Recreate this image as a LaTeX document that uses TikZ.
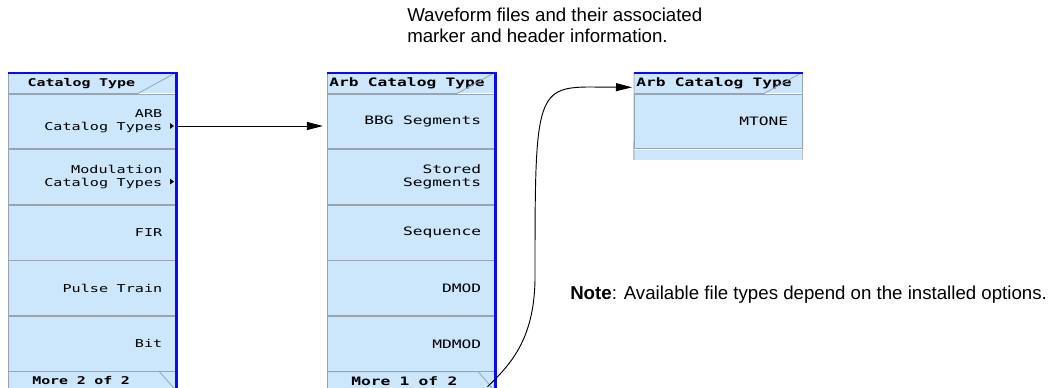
\documentclass[tikz,border=0pt]{standalone}
\usepackage{fontspec}
\setmainfont{Liberation Sans}
\newfontfamily\keyfamily[FakeStretch=1.4]{DejaVu Sans Mono}
\DeclareRobustCommand\keyface{\keyfamily\fontsize{8.7}{9.8}\selectfont}
\DeclareRobustCommand\smallkeyface{\keyfamily\fontsize{8.1}{9.6}\selectfont}
\DeclareRobustCommand\tabface{\keyfamily\bfseries\fontsize{8.7}{9}\selectfont}
\DeclareRobustCommand\smalltabface{\keyfamily\bfseries\fontsize{8}{9}\selectfont}
\newcommand\ks{\hspace{0.8em}}
\usetikzlibrary{arrows.meta, positioning}
\definecolor{keyblue}{HTML}{CCE6FC}
\definecolor{frameblue}{HTML}{0A0AF5}
\definecolor{keyline}{HTML}{98A4B2}
\tikzset{
  menutitle/.style={
    rectangle, fill=keyblue, minimum width=126pt, minimum height=15pt,
    inner xsep=0pt, text width=#1, align=left, font=\tabface
  },
  menutitle/.default=123pt,
  softkey/.style={
    rectangle, fill=keyblue, draw=keyline, line width=0.6pt,
    minimum width=126pt, minimum height=41.1pt,
    text width=105pt, inner xsep=10.5pt, align=right, font=\keyface
  },
  moretab/.style={
    rectangle, fill=keyblue, minimum width=126pt, minimum height=12.75pt,
    inner xsep=0pt, text width=90pt, align=left, font=\tabface
  },
  frame/.style={draw=frameblue, line width=2.2pt},
  tabline/.style={draw=keyline, line width=0.6pt},
  subtip/.style={fill=black},
  link/.style={-{Triangle[length=12pt, width=6pt]}, line width=0.7pt},
  note/.style={align=left, inner sep=0pt, font=\fontsize{14}{15.8}\selectfont}
}
\begin{document}
\begin{tikzpicture}[x=0.75pt, y=-0.75pt]
  \useasboundingbox (0,0) rectangle (1054,388);

  % catalog type menu
  \begin{scope}[softkey/.append style={font=\smallkeyface},
                moretab/.append style={font=\smalltabface}]
  \node[menutitle=97pt, font=\smalltabface, anchor=north west] (cattitle) at (8,73) {Catalog\ks Type};
  \node[softkey, below=0pt of cattitle] (arbkey) {ARB\hspace*{-4pt}\\Catalog\ks Types\hspace*{-4pt}};
  \node[softkey, below=0pt of arbkey] (modkey) {Modulation\hspace*{-4pt}\\Catalog\ks Types\hspace*{-4pt}};
  \node[softkey, below=0pt of modkey] (firkey) {FIR};
  \node[softkey, below=0pt of firkey] (pulsekey) {Pulse\ks Train};
  \node[softkey, below=0pt of pulsekey] (bitkey) {Bit};
  \node[moretab, below=0pt of bitkey] (moretwo) {More\ks 2\ks of\ks 2};
  \end{scope}

  % arb catalog type menu
  \node[menutitle, anchor=north west] (arbtitle) at (327,73) {Arb\ks Catalog\ks Type};
  \node[softkey, below=0pt of arbtitle] (bbgkey) {BBG\ks Segments};
  \node[softkey, below=0pt of bbgkey] (storedkey) {Stored\\Segments};
  \node[softkey, below=0pt of storedkey] (seqkey) {Sequence};
  \node[softkey, below=0pt of seqkey] (dmodkey) {DMOD};
  \node[softkey, below=0pt of dmodkey] (mdmodkey) {MDMOD};
  \node[moretab, below=0pt of mdmodkey] (moreone) {More\ks 1\ks of\ks 2};

  % second page, cut off
  \node[menutitle, anchor=north west] (mtitle) at (634,73) {Arb\ks Catalog\ks Type};
  \node[softkey, below=0pt of mtitle] (mtonekey) {MTONE};
  \node[softkey, draw=none, minimum height=7.5pt, below=0pt of mtonekey] (nextkey) {};

  % tabs and frames
  \foreach \t in {cattitle, arbtitle, mtitle}{%
    \draw[tabline] (\t.south west) -- ([xshift=-29pt]\t.south east)
      -- ([xshift=-1pt]\t.north east);}
  \foreach \m in {moretwo, moreone}{%
    \draw[tabline] (\m.north west) -- ([xshift=-13pt]\m.north east)
      -- ([xshift=-2pt,yshift=1pt]\m.south east);
    \draw[tabline] (\m.north west) -- (\m.south west);}
  \draw[tabline] (cattitle.north west) -- (cattitle.south west);
  \draw[tabline] (arbtitle.north west) -- (arbtitle.south west);
  \draw[tabline] (mtitle.north west) -- (nextkey.south west);
  \draw[tabline] (mtitle.north east) -- (nextkey.south east);
  \draw[frame] (cattitle.north west) -- (cattitle.north east)
    -- (moretwo.south east) -- (moretwo.south west);
  \draw[frame] (arbtitle.north west) -- (arbtitle.north east)
    -- (moreone.south east) -- (moreone.south west);
  \draw[frame] (mtitle.north west) -- (mtitle.north east);

  % submenu marks
  \foreach \k in {arbkey, modkey}{%
    \fill[subtip] ([xshift=-5pt,yshift=-1.3pt]\k.east) -- ++(3pt,-2.2pt)
      -- ++(-3pt,-2.2pt) -- cycle;}

  \coordinate (arbtip) at ([yshift=-3.5pt]arbkey.east);
  \coordinate (curlstart) at ([xshift=-6pt,yshift=2.5pt]moreone.south east);
  \draw[link, shorten >=3pt] (arbtip) -- (arbtip -| bbgkey.west);
  \draw[link, shorten >=1.5pt] (curlstart) .. controls (510,365) and (534,340) .. (535,280)
    .. controls (535,100) and (535,87) .. (590,87) -- ([yshift=-3pt]mtitle.west);

  \node[note, anchor=north west] (wavenote) at (407,8)
    {Waveform files and their associated\\marker and header information.};
  \node[note, anchor=west] (optnote) at (570,295)
    {\textbf{Note}: Available file types depend on the installed options.};
\end{tikzpicture}
\end{document}
